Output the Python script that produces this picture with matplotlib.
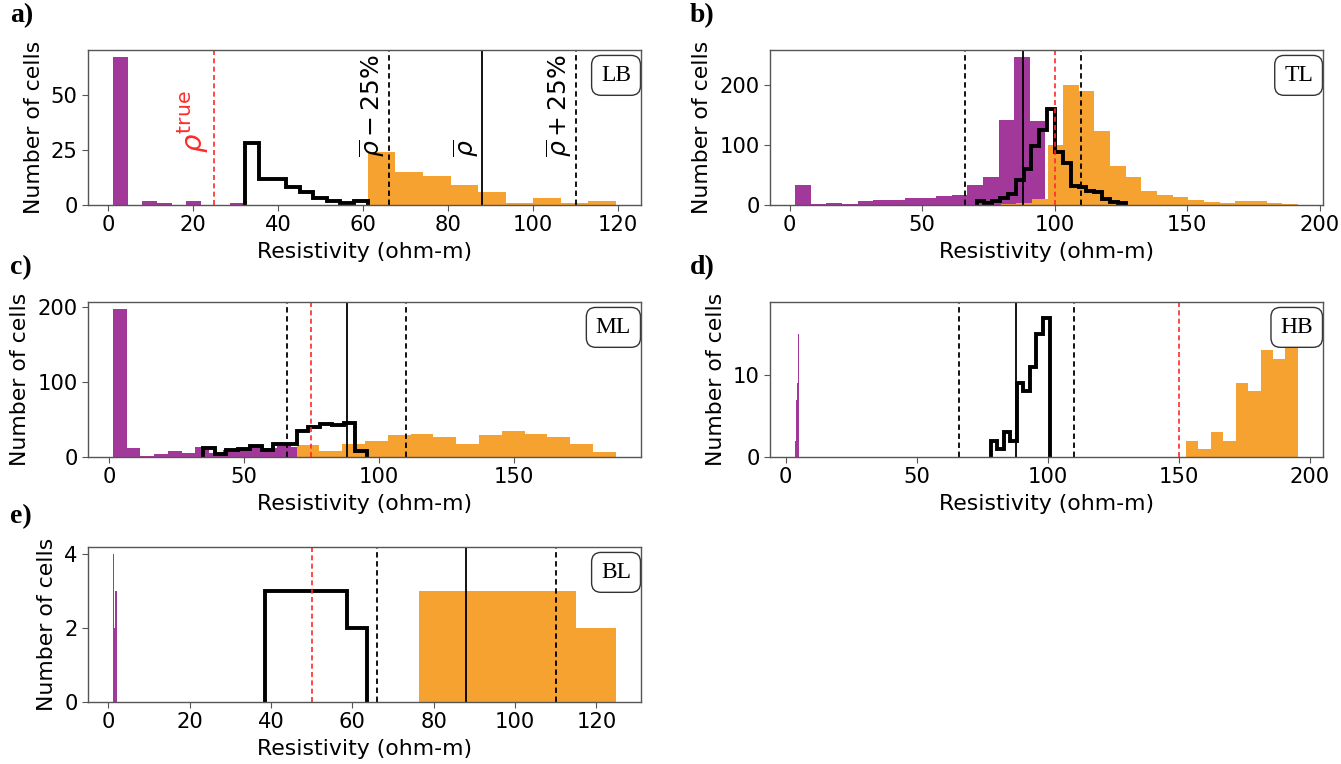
import matplotlib
matplotlib.use("Agg")
import matplotlib.pyplot as plt
import numpy as np

# ---------------- data ----------------
# Panel a (LB)
a_purple_edges = [1.15, 4.6, 8.05, 11.5, 14.95, 18.4, 21.85, 25.3, 28.75, 32.2]
a_purple_counts = [67, 0, 2, 1, 0, 2, 0, 0, 1]
a_black_edges = [32.2, 35.41, 38.62, 41.83, 45.04, 48.25, 51.46, 54.67, 57.88, 61.1]
a_black_counts = [28, 12, 12, 8, 6, 3, 2, 1, 2]
a_orange_edges = [61.1, 67.6, 74.1, 80.6, 87.1, 93.6, 100.0, 106.5, 113.0, 119.5]
a_orange_counts = [24, 15, 13, 9, 6, 1, 3, 1, 2]

# Panel b (TL)
b_purple_edges = [2.1, 8.0, 13.9, 19.8, 25.7, 31.6, 37.5, 43.4, 49.3, 55.2, 61.1,
                  67.0, 72.9, 78.8, 84.7, 90.6, 96.5]
b_purple_counts = [34, 2, 3, 1, 6, 9, 8, 12, 12, 15, 17, 33, 47, 143, 247, 141]
b_orange_edges = [79.6, 85.5, 91.4, 97.3, 103.2, 109.1, 115.0, 120.9, 126.8, 132.7,
                  138.6, 144.5, 150.4, 156.3, 162.2, 168.1, 174.0, 179.9, 185.8, 191.7]
b_orange_counts = [1, 3, 10, 100, 200, 190, 123, 66, 47, 24, 16, 13, 9, 5, 3, 6, 6, 3, 2]
b_black_edges = [70.5, 73.46, 76.42, 79.38, 82.34, 85.3, 88.26, 91.22, 94.18, 97.14,
                 100.1, 103.06, 106.02, 108.98, 111.94, 114.9, 117.86, 120.82, 123.78, 126.74]
b_black_counts = [6, 4, 7, 11, 18, 42, 60, 99, 125, 161, 88, 70, 32, 30, 24, 22, 10, 5, 4]

# Panel c (ML)
c_purple_edges = [1.5, 6.57, 11.64, 16.71, 21.78, 26.85, 31.92, 36.99, 42.06, 47.13,
                  52.2, 57.27, 62.34, 67.41, 72.48]
c_purple_counts = [197, 12, 1, 4, 8, 6, 13, 6, 9, 11, 14, 12, 15, 14]
c_orange_edges = [69.5, 77.95, 86.4, 94.85, 103.3, 111.75, 120.2, 128.65, 137.1,
                  145.55, 154.0, 162.45, 170.9, 179.35, 187.8]
c_orange_counts = [16, 8, 18, 21, 29, 31, 27, 18, 30, 35, 31, 27, 18, 7]
c_black_edges = [34.8, 39.14, 43.48, 47.82, 52.16, 56.5, 60.84, 65.18, 69.52, 73.86,
                 78.2, 82.54, 86.88, 91.22, 95.56]
c_black_counts = [12, 4, 9, 11, 15, 10, 18, 17, 35, 40, 44, 43, 46, 8]

# Panel d (HB)
d_purple_edges = [3.6, 3.9, 4.3, 4.7, 4.9, 5.1]
d_purple_counts = [2, 7, 9, 15, 17]
d_black_edges = [78.2, 80.7, 83.2, 85.7, 88.2, 90.7, 93.2, 95.7, 98.2, 100.7]
d_black_counts = [2, 1, 3, 2, 9, 8, 11, 15, 17]
d_orange_edges = [152.7, 157.45, 162.2, 166.95, 171.7, 176.45, 181.2, 185.95, 190.7, 195.45]
d_orange_counts = [2, 1, 3, 2, 9, 8, 13, 12, 18]

# Panel e (BL)
e_purple_edges = [1.2, 1.45, 1.75, 2.1]
e_purple_counts = [4, 2, 3]
e_black_edges = [38.6, 43.6, 48.6, 53.6, 58.6, 63.6]
e_black_counts = [3, 3, 3, 3, 2]
e_orange_edges = [76.3, 86.0, 95.7, 105.4, 115.1, 124.8]
e_orange_counts = [3, 3, 3, 3, 2]

rho_mean = 88
rho_low = 66
rho_high = 110
rho_true = {"a": 25, "b": 100, "c": 75, "d": 150, "e": 50}
box_labels = {"a": "LB", "b": "TL", "c": "ML", "d": "HB", "e": "BL"}
xticks = {"a": [0, 20, 40, 60, 80, 100, 120], "b": [0, 50, 100, 150, 200],
          "c": [0, 50, 100, 150], "d": [0, 50, 100, 150, 200],
          "e": [0, 20, 40, 60, 80, 100, 120]}
yticks = {"a": [0, 25, 50], "b": [0, 100, 200], "c": [0, 100, 200],
          "d": [0, 10], "e": [0, 2, 4]}

data = {
    "a": (a_purple_edges, a_purple_counts, a_orange_edges, a_orange_counts, a_black_edges, a_black_counts),
    "b": (b_purple_edges, b_purple_counts, b_orange_edges, b_orange_counts, b_black_edges, b_black_counts),
    "c": (c_purple_edges, c_purple_counts, c_orange_edges, c_orange_counts, c_black_edges, c_black_counts),
    "d": (d_purple_edges, d_purple_counts, d_orange_edges, d_orange_counts, d_black_edges, d_black_counts),
    "e": (e_purple_edges, e_purple_counts, e_orange_edges, e_orange_counts, e_black_edges, e_black_counts),
}

# ---------------- style ----------------
PURPLE = "#a2399a"
ORANGE = "#f6a230"
SPINE = "#555555"
TICK_FS = 15.2
LABEL_FS = 15.8
SERIF = ["Liberation Serif", "DejaVu Serif"]

W, H = 1341, 764
fig = plt.figure(figsize=(W / 100, H / 100), dpi=100)

col_left = {"a": 88, "b": 770, "c": 88, "d": 770, "e": 88}
row_bottom = {"a": 205, "b": 205, "c": 457, "d": 457, "e": 702}
ax_w, ax_h = 553, 155

label_pos = {"a": (10, 16), "b": (690, 16), "c": (10, 268), "d": (690, 268), "e": (10, 517)}


def centers(edges):
    e = np.asarray(edges, dtype=float)
    return 0.5 * (e[:-1] + e[1:])


for key in ["a", "b", "c", "d", "e"]:
    pe, pc, oe, oc, be, bc = data[key]
    ax = fig.add_axes([col_left[key] / W, 1 - row_bottom[key] / H, ax_w / W, ax_h / H])
    ax.hist(centers(pe), bins=pe, weights=pc, color=PURPLE, histtype="bar", rwidth=1.0)
    ax.hist(centers(oe), bins=oe, weights=oc, color=ORANGE, histtype="bar", rwidth=1.0)
    ax.hist(centers(be), bins=be, weights=bc, color="black", histtype="step", linewidth=2.8)

    ax.axvline(rho_low, color="black", linestyle="--", linewidth=1.3, dashes=(3, 2))
    ax.axvline(rho_high, color="black", linestyle="--", linewidth=1.3, dashes=(3, 2))
    ax.axvline(rho_mean, color="black", linestyle="-", linewidth=1.3)
    ax.axvline(rho_true[key], color="#ff2a2a", linestyle="--", linewidth=1.2, dashes=(3, 2))

    ax.set_xticks(xticks[key])
    ax.set_yticks(yticks[key])
    ax.tick_params(labelsize=TICK_FS, colors="black", length=4, width=0.8)
    ax.tick_params(axis="both", color=SPINE)
    for s in ax.spines.values():
        s.set_color(SPINE)
        s.set_linewidth(1.0)
    ax.set_xlabel("Resistivity (ohm-m)", fontsize=LABEL_FS, labelpad=5)
    ax.set_ylabel("Number of cells", fontsize=LABEL_FS, labelpad=5)

    ax.text(0.982, 0.904, box_labels[key], transform=ax.transAxes, ha="right", va="top",
            fontsize=17, family=SERIF, zorder=1,
            bbox=dict(boxstyle="round,pad=0.4", facecolor="white", edgecolor="#333333",
                      linewidth=1.0))

    fig.text(label_pos[key][0] / W, 1 - label_pos[key][1] / H, key + ")",
             fontsize=20, fontweight="bold", family=SERIF, va="center", ha="left")

    if key == "a":
        ytxt = 22
        ax.text(rho_true["a"] - 0.8, 23.5, r"$\rho^{\rm true}$", color="#ff2a2a",
                rotation=90, ha="right", va="bottom", fontsize=21)
        ax.text(rho_low - 0.3, ytxt, r"$\overline{\rho} - 25\%$", color="black",
                rotation=90, ha="right", va="bottom", fontsize=18)
        ax.text(rho_mean - 0.3, ytxt, r"$\overline{\rho}$", color="black",
                rotation=90, ha="right", va="bottom", fontsize=18)
        ax.text(rho_high - 0.3, ytxt, r"$\overline{\rho} + 25\%$", color="black",
                rotation=90, ha="right", va="bottom", fontsize=18)

fig.savefig("out.png", dpi=100)
